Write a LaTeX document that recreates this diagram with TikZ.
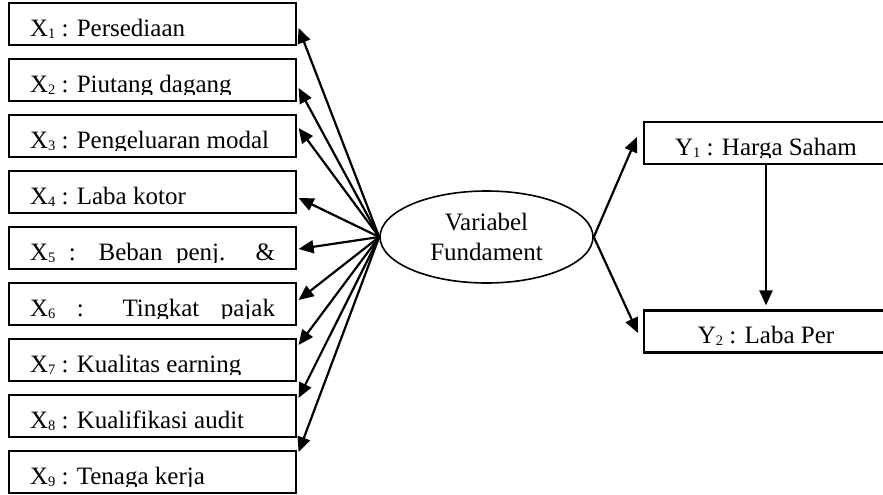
\documentclass[tikz,border=0pt]{standalone}
\usepackage{fontspec}
\setmainfont{Liberation Serif}
\usetikzlibrary{arrows.meta,shapes.geometric,calc}

\newcommand{\subnum}[1]{\raisebox{-2pt}{\fontsize{14.5}{14.5}\selectfont #1}}
\newcommand{\fullline}[1]{\makebox[245pt][s]{#1}}

\begin{document}
\begin{tikzpicture}[x=1pt,y=-1pt,line width=2.2pt,
  >={Triangle[length=15pt,width=13pt]},
  font=\fontsize{25}{30}\selectfont]
  \tikzstyle{xbox}=[draw,minimum width=287pt,minimum height=42pt,inner sep=0pt]
  \tikzstyle{ybox}=[draw,minimum width=244pt,minimum height=42pt,inner sep=0pt]
  \tikzstyle{boxtext}=[inner sep=0pt]
  \tikzstyle{latent}=[draw,ellipse,line width=1.6pt,minimum width=213pt,
    minimum height=92pt,inner sep=0pt,align=center]

  \clip (0,0) rectangle (883,495);

  % indicator boxes on the left
  \foreach \i/\lbl in {1/{X\subnum{1} : Persediaan},
                       2/{X\subnum{2} : Piutang dagang},
                       3/{X\subnum{3} : Pengeluaran modal},
                       4/{X\subnum{4} : Laba kotor},
                       5/{\fullline{X\subnum{5} : Beban penj. \&}},
                       6/{\fullline{X\subnum{6} : Tingkat pajak}},
                       7/{X\subnum{7} : Kualitas earning},
                       8/{X\subnum{8} : Kualifikasi audit},
                       9/{X\subnum{9} : Tenaga kerja}}{
    \node[xbox] (X\i) at (152.5,{24+56*(\i-1)}) {};
    \begin{scope}
      \clip (X\i.north west) rectangle ($(X\i.south east)+(0,-8)$);
      \node[boxtext,anchor=base west] (tX\i) at ($(X\i.south west)+(21,-10)$) {\lbl};
    \end{scope}
  }

  \node[latent] (F) at (486.5,237) {Variabel\\Fundament};

  % outcome boxes on the right
  \node[ybox] (Y1) at (766,143) {};
  \node[ybox] (Y2) at (766,331.5) {};
  \begin{scope}
    \clip (Y1.north west) rectangle ($(Y1.south east)+(0,-8)$);
    \node[boxtext,anchor=base] (tY1) at ($(Y1.south)+(0,-10)$) {Y\subnum{1} : Harga Saham};
  \end{scope}
  \begin{scope}
    \clip (Y2.north west) rectangle ($(Y2.south east)+(0,-8)$);
    \node[boxtext,anchor=base] (tY2) at ($(Y2.south)+(0,-10)$) {Y\subnum{2} : Laba Per};
  \end{scope}

  \foreach \i/\dy in {1/4,2/8,3/-8,4/6,5/1,6/-4,7/-15,8/-18,9/-20}
    \draw[->] (F.west) -- ($(X\i.east)+(1.5,\dy)$);

  \draw[->] (F.east) -- ($(Y1.west)+(-6,-6)$);
  \draw[->] (F.east) -- ($(Y2.west)+(-5,1.5)$);
  \draw[->] (Y1.south) -- ($(Y2.north)+(0,-4)$);
\end{tikzpicture}
\end{document}
